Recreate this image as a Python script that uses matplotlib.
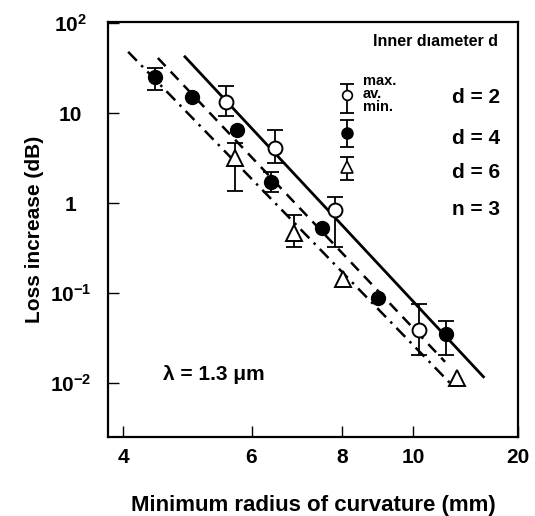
import numpy as np
import matplotlib.pyplot as plt

plt.rcParams['font.family'] = 'Liberation Sans'
plt.rcParams['font.weight'] = 'bold'
plt.rcParams['axes.labelweight'] = 'bold'
plt.rcParams['mathtext.fontset'] = 'custom'
plt.rcParams['mathtext.rm'] = 'Liberation Sans:bold'
plt.rcParams['mathtext.it'] = 'Liberation Sans:bold:italic'
plt.rcParams['mathtext.bf'] = 'Liberation Sans:bold'

nan = np.nan

# d = 2 (open circles)
d2_x = [5.53, 6.46, 7.82, 10.2]
d2_y = [13.4, 4.11, 0.842, 0.039]
d2_hi = [20.1, 6.52, 1.17, 0.076]
d2_lo = [9.33, 2.80, 0.327, 0.0206]

# d = 4 (filled circles)
d4_x = [4.42, 4.97, 5.73, 6.38, 7.50, 8.95, 11.1]
d4_y = [25.3, 15.2, 6.5, 1.73, 0.532, 0.0887, 0.0353]
d4_hi = [31.8, nan, nan, 2.23, nan, nan, 0.0492]
d4_lo = [18.2, nan, nan, 1.34, nan, nan, 0.0206]

# d = 6 (open triangles)
d6_x = [5.69, 6.86, 8.01, 11.5]
d6_y = [3.19, 0.468, 0.144, 0.01145]
d6_hi = [4.68, 0.741, nan, nan]
d6_lo = [1.37, 0.327, nan, nan]

# fitted lines (end points)
fit2_x = [4.86, 12.5]
fit2_y = [42.3, 0.0118]
fit4_x = [4.46, 11.07]
fit4_y = [41.0, 0.0173]
fit6_x = [4.06, 11.24]
fit6_y = [48.0, 0.0101]

# key symbols
key_x = [8.12, 8.12, 8.12]
key_y = [16.0, 6.04, 2.53]
key_hi = [21.2, 8.43, 3.27]
key_lo = [10.08, 4.22, 1.82]

xticks = [4, 6, 8, 10, 13.94]
xticklabels = ['4', '6', '8', '10', '20']
yticks = [1e-2, 1e-1, 1, 10, 100]
yticklabels = [r'$10^{-2}$', r'$10^{-1}$', '1', '10', r'$10^{2}$']

fig = plt.figure(figsize=(5.35, 5.16), dpi=100)
ax = fig.add_axes([0.202, 0.1537, 0.766, 0.8037])
ax.set_xscale('log')
ax.set_yscale('log')
ax.set_xlim(3.81, 13.94)
ax.set_ylim(2.55e-3, 103)


def errbars(x, y, hi, lo, cap=6):
    x = np.array(x); y = np.array(y); hi = np.array(hi); lo = np.array(lo)
    m = ~np.isnan(hi)
    ax.errorbar(x[m], y[m], yerr=[y[m] - lo[m], hi[m] - y[m]], fmt='none',
                ecolor='k', elinewidth=1.3, capsize=cap, capthick=1.3, zorder=2)


ax.plot(fit2_x, fit2_y, color='k', lw=2.0, ls='-', zorder=1)
ax.plot(fit4_x, fit4_y, color='k', lw=1.8, dashes=(4.5, 3), zorder=1)
ax.plot(fit6_x, fit6_y, color='k', lw=1.8, dashes=(5, 2.5, 1, 2.5), zorder=1)

errbars(d2_x, d2_y, d2_hi, d2_lo)
errbars(d4_x, d4_y, d4_hi, d4_lo)
errbars(d6_x, d6_y, d6_hi, d6_lo)
ax.plot(d2_x, d2_y, 'o', ms=10, mfc='white', mec='k', mew=1.4, zorder=3)
ax.plot(d4_x, d4_y, 'o', ms=10, mfc='k', mec='k', zorder=3)
ax.plot(d6_x, d6_y, '^', ms=12, mfc='white', mec='k', mew=1.4, zorder=3)

# key
errbars(key_x, key_y, key_hi, key_lo, cap=5)
ax.plot(key_x[0], key_y[0], 'o', ms=7, mfc='white', mec='k', mew=1.2, zorder=3)
ax.plot(key_x[1], key_y[1], 'o', ms=8, mfc='k', mec='k', zorder=3)
ax.plot(key_x[2], key_y[2], '^', ms=8, mfc='white', mec='k', mew=1.2, zorder=3)

ax.text(0.951, 0.952, 'Inner dıameter d', transform=ax.transAxes, ha='right', va='center',
        fontsize=11.5)
ax.text(0.622, 0.826, 'max.\nav.\nmin.', transform=ax.transAxes, ha='left', va='center',
        fontsize=10.5, linespacing=0.92)
ax.text(0.956, 0.817, 'd = 2', transform=ax.transAxes, ha='right', va='center', fontsize=15)
ax.text(0.956, 0.720, 'd = 4', transform=ax.transAxes, ha='right', va='center', fontsize=15)
ax.text(0.956, 0.636, 'd = 6', transform=ax.transAxes, ha='right', va='center', fontsize=15)
ax.text(0.956, 0.547, 'n = 3', transform=ax.transAxes, ha='right', va='center', fontsize=15)
ax.text(0.134, 0.149, 'λ = 1.3 μm', transform=ax.transAxes, ha='left', va='center', fontsize=15)

ax.xaxis.set_minor_locator(plt.NullLocator())
ax.yaxis.set_minor_locator(plt.NullLocator())
ax.set_xticks(xticks)
ax.set_xticklabels(xticklabels)
ax.set_yticks(yticks)
ax.set_yticklabels(yticklabels)
ax.tick_params(axis='both', direction='in', length=8, width=1, labelsize=15)
ax.tick_params(axis='x', pad=8)
ax.tick_params(axis='y', pad=27)
for lab in ax.get_yticklabels():
    lab.set_horizontalalignment('center')

for s in ax.spines.values():
    s.set_linewidth(1.6)

ax.set_xlabel('Minimum radius of curvature (mm)', fontsize=16, labelpad=20)
ax.set_ylabel('Loss increase (dB)', fontsize=15, labelpad=4)

fig.savefig('out.png', dpi=100)
